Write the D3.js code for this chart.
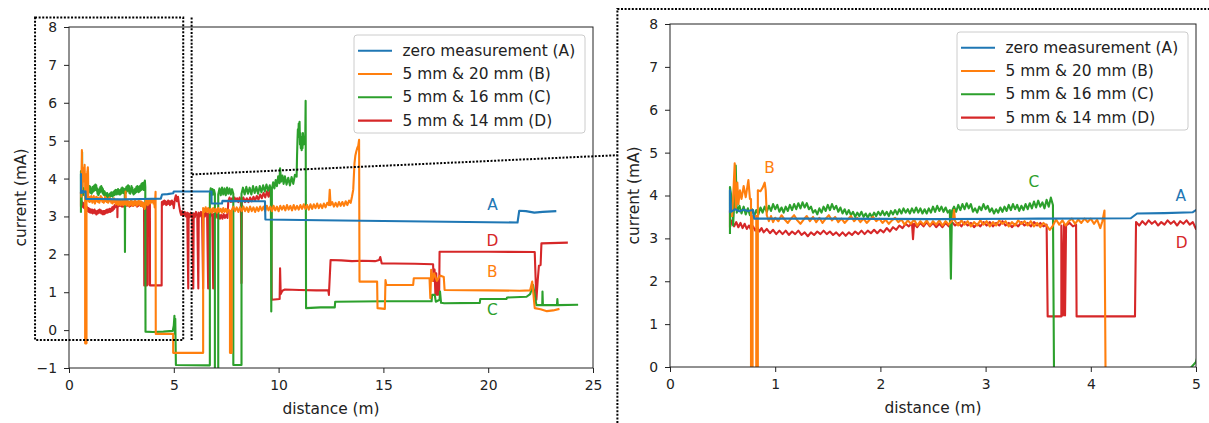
<!DOCTYPE html>
<html>
<head>
<meta charset="utf-8">
<script src="https://cdn.jsdelivr.net/npm/d3@7"></script>
<style>
  html, body { margin: 0; padding: 0; background: #fff; }
  svg { display: block; font-family: "DejaVu Sans", sans-serif; }
</style>
</head>
<body>
<svg id="chart" width="1209" height="423"></svg>
<script>
// Sensor current along the track: full run on the left, first 5 m enlarged on the right.
// Each series is a list of [distance (m), current (mA)] samples.

const SERIES_NAMES = [
  "zero measurement (A)",
  "5 mm & 20 mm (B)",
  "5 mm & 16 mm (C)",
  "5 mm & 14 mm (D)",
];
const SERIES_KEYS = ["A", "B", "C", "D"];

const zeroA = [
  [0.57, 3.60], [0.57, 4.12], [0.58, 3.62], [0.62, 3.68], [0.66, 3.63], [0.70, 3.67],
  [0.74, 3.64], [0.79, 3.66], [0.80, 3.46], [1.50, 3.46], [2.50, 3.45], [3.50, 3.46],
  [4.38, 3.47], [4.44, 3.58], [4.70, 3.59], [4.97, 3.61], [5.00, 3.66], [6.80, 3.66],
  [6.80, 3.34], [7.30, 3.34], [7.32, 3.41], [9.35, 3.40], [9.37, 2.92], [12.0, 2.90],
  [15.0, 2.88], [18.0, 2.86], [21.40, 2.84], [21.48, 3.15], [21.80, 3.14], [22.20, 3.10],
  [22.60, 3.12], [23.25, 3.14],
];

const gap20B = [
  [0.59, 3.50], [0.60, 3.95], [0.615, 4.75], [0.625, 3.70], [0.64, 4.30], [0.65, 3.80],
  [0.665, 4.12], [0.68, 3.92], [0.70, 4.22], [0.72, 3.96], [0.745, 4.36], [0.76, 3.92],
  [0.77, 3.92], [0.77, -0.35], [0.785, -0.35], [0.785, 3.52], [0.82, 3.52], [0.82, -0.35],
  [0.835, -0.35], [0.835, 4.12], [0.86, 4.10], [0.88, 4.18], [0.90, 4.30], [0.91, 4.12],
  [0.92, 3.54], [0.94, 3.40], [0.96, 3.52], [0.98, 3.38], [1.00, 3.48], [1.03, 3.40],
  [1.06, 3.54], [1.09, 3.44], [1.12, 3.36], [1.15, 3.46], [1.18, 3.54], [1.21, 3.42],
  [1.24, 3.34], [1.27, 3.44], [1.30, 3.52], [1.33, 3.40], [1.36, 3.50], [1.39, 3.38],
  [1.42, 3.48], [1.45, 3.36], [1.48, 3.46], [1.51, 3.54], [1.54, 3.42], [1.57, 3.50],
  [1.60, 3.38], [1.63, 3.46], [1.66, 3.36], [1.69, 3.44], [1.72, 3.52], [1.75, 3.40],
  [1.78, 3.48], [1.81, 3.38], [1.84, 3.46], [1.87, 3.36], [1.90, 3.44], [1.93, 3.50],
  [1.96, 3.40], [1.99, 3.46], [2.02, 3.36], [2.05, 3.44], [2.08, 3.34], [2.11, 3.42],
  [2.14, 3.48], [2.17, 3.38], [2.20, 3.44], [2.23, 3.32], [2.26, 3.42], [2.29, 3.34],
  [2.32, 3.44], [2.35, 3.30], [2.38, 3.40], [2.41, 3.32], [2.44, 3.42], [2.47, 3.30],
  [2.50, 3.40], [2.53, 3.32], [2.56, 3.42], [2.59, 3.30], [2.62, 3.40], [2.65, 3.32],
  [2.69, 3.44], [2.70, 3.66], [2.71, 3.40], [2.74, 3.30], [2.77, 3.42], [2.80, 3.32],
  [2.83, 3.40], [2.86, 3.28], [2.89, 3.38], [2.92, 3.30], [2.95, 3.42], [2.98, 3.32],
  [3.01, 3.40], [3.04, 3.28], [3.07, 3.38], [3.10, 3.30], [3.13, 3.42], [3.16, 3.34],
  [3.19, 3.40], [3.22, 3.28], [3.25, 3.38], [3.28, 3.30], [3.31, 3.42], [3.34, 3.34],
  [3.37, 3.40], [3.40, 3.30], [3.43, 3.40], [3.46, 3.28], [3.49, 3.36], [3.52, 3.26],
  [3.55, 3.36], [3.58, 3.30], [3.61, 3.20], [3.64, 3.30], [3.67, 3.44], [3.70, 3.32],
  [3.73, 3.42], [3.76, 3.30], [3.79, 3.40], [3.82, 3.46], [3.85, 3.34], [3.88, 3.44],
  [3.91, 3.36], [3.94, 3.46], [3.97, 3.38], [4.00, 3.46], [4.03, 3.34], [4.06, 3.44],
  [4.09, 3.24], [4.11, 3.40], [4.13, 3.65], [4.14, -0.10], [4.97, -0.10], [4.97, -0.60],
  [6.40, -0.60], [6.40, 3.22], [6.46, 3.12], [6.52, 3.24], [6.58, 3.12], [6.64, 3.22],
  [6.70, 3.10], [6.76, 3.20], [6.82, 3.10], [6.88, 3.22], [6.94, 3.12], [7.00, 3.20],
  [7.06, 3.10], [7.12, 3.22], [7.18, 3.12], [7.24, 3.20], [7.30, 3.10], [7.36, 3.22],
  [7.42, 3.12], [7.48, 3.20], [7.54, 3.10], [7.60, 3.18], [7.68, 3.14], [7.68, -0.60],
  [7.76, -0.60], [7.76, 3.16], [7.84, 3.26], [7.92, 3.14], [8.00, 3.24], [8.08, 3.12],
  [8.16, 3.24], [8.24, 3.14], [8.32, 3.26], [8.40, 3.14], [8.48, 3.24], [8.56, 3.12],
  [8.64, 3.26], [8.72, 3.14], [8.80, 3.24], [8.88, 3.12], [8.96, 3.24], [9.04, 3.14],
  [9.12, 3.26], [9.20, 3.16], [9.28, 3.26], [9.36, 3.14], [9.44, 3.28], [9.52, 3.16],
  [9.60, 3.26], [9.68, 3.14], [9.76, 3.28], [9.84, 3.16], [9.92, 3.26], [10.00, 3.14],
  [10.08, 3.28], [10.16, 3.18], [10.24, 3.28], [10.32, 3.16], [10.40, 3.30], [10.48, 3.18],
  [10.56, 3.28], [10.64, 3.16], [10.72, 3.30], [10.80, 3.18], [10.88, 3.28], [10.96, 3.18],
  [11.04, 3.30], [11.12, 3.20], [11.20, 3.32], [11.28, 3.20], [11.36, 3.30], [11.44, 3.18],
  [11.52, 3.32], [11.60, 3.20], [11.68, 3.32], [11.76, 3.22], [11.84, 3.34], [11.92, 3.22],
  [12.00, 3.32], [12.08, 3.22], [12.16, 3.34], [12.24, 3.24], [12.32, 3.36], [12.40, 3.30],
  [12.44, 3.70], [12.48, 3.30], [12.56, 3.38], [12.64, 3.26], [12.72, 3.36], [12.80, 3.26],
  [12.88, 3.38], [12.96, 3.28], [13.04, 3.38], [13.12, 3.28], [13.20, 3.40], [13.28, 3.30],
  [13.36, 3.42], [13.44, 3.36], [13.50, 3.52], [13.56, 3.70], [13.62, 4.40], [13.66, 4.60],
  [13.70, 4.70], [13.76, 4.82], [13.80, 4.86], [13.84, 5.02], [13.86, 1.28], [14.70, 1.28],
  [14.72, 0.58], [15.07, 0.56], [15.10, 1.32], [15.14, 1.19], [16.42, 1.19], [16.45, 1.37],
  [17.20, 1.37], [17.24, 0.84], [17.28, 1.59], [17.34, 1.30], [17.42, 1.50], [17.55, 1.30],
  [17.70, 1.44], [17.88, 1.40], [17.92, 1.06], [20.00, 1.05], [21.50, 1.04], [22.00, 1.05],
  [22.10, 1.28], [22.22, 0.58], [22.50, 0.55], [22.80, 0.50], [23.10, 0.52], [23.40, 0.56],
];

const gap16C = [
  [0.57, 3.10], [0.57, 4.20], [0.59, 3.85], [0.60, 3.30], [0.61, 3.80], [0.625, 4.70],
  [0.635, 3.60], [0.66, 3.76], [0.68, 3.58], [0.70, 3.74], [0.72, 3.56], [0.74, 3.70],
  [0.76, 3.54], [0.78, 3.68], [0.80, 3.52], [0.82, 3.66], [0.84, 3.56], [0.86, 3.72],
  [0.88, 3.60], [0.90, 3.74], [0.92, 3.62], [0.94, 3.76], [0.96, 3.64], [0.98, 3.80],
  [1.00, 3.68], [1.02, 3.78], [1.04, 3.62], [1.06, 3.72], [1.08, 3.60], [1.10, 3.74],
  [1.12, 3.64], [1.14, 3.78], [1.16, 3.66], [1.18, 3.80], [1.20, 3.68], [1.22, 3.82],
  [1.24, 3.70], [1.26, 3.84], [1.28, 3.72], [1.30, 3.82], [1.32, 3.68], [1.34, 3.74],
  [1.36, 3.60], [1.38, 3.66], [1.40, 3.56], [1.42, 3.70], [1.44, 3.60], [1.46, 3.74],
  [1.48, 3.64], [1.50, 3.78], [1.52, 3.66], [1.54, 3.80], [1.56, 3.68], [1.58, 3.76],
  [1.60, 3.62], [1.62, 3.72], [1.64, 3.58], [1.66, 3.68], [1.68, 3.56], [1.70, 3.66],
  [1.72, 3.54], [1.74, 3.62], [1.76, 3.50], [1.78, 3.60], [1.80, 3.52], [1.82, 3.62],
  [1.84, 3.50], [1.86, 3.58], [1.88, 3.48], [1.90, 3.58], [1.92, 3.50], [1.94, 3.60],
  [1.96, 3.52], [1.98, 3.62], [2.00, 3.54], [2.02, 3.64], [2.04, 3.54], [2.06, 3.62],
  [2.08, 3.52], [2.10, 3.64], [2.12, 3.56], [2.14, 3.66], [2.16, 3.56], [2.18, 3.68],
  [2.20, 3.58], [2.22, 3.70], [2.24, 3.60], [2.26, 3.68], [2.28, 3.58], [2.30, 3.70],
  [2.32, 3.60], [2.34, 3.72], [2.36, 3.60], [2.38, 3.70], [2.40, 3.58], [2.42, 3.68],
  [2.44, 3.58], [2.46, 3.70], [2.48, 3.60], [2.50, 3.74], [2.52, 3.62], [2.54, 3.76],
  [2.56, 3.64], [2.58, 3.74], [2.60, 3.62], [2.62, 3.72], [2.64, 3.60], [2.66, 3.66],
  [2.67, 2.06], [2.68, 3.64], [2.70, 3.74], [2.72, 3.62], [2.74, 3.78], [2.76, 3.66],
  [2.78, 3.80], [2.80, 3.68], [2.82, 3.82], [2.84, 3.70], [2.86, 3.80], [2.88, 3.62],
  [2.90, 3.70], [2.92, 3.60], [2.94, 3.74], [2.96, 3.66], [2.98, 3.80], [3.00, 3.68],
  [3.02, 3.76], [3.04, 3.62], [3.06, 3.70], [3.08, 3.58], [3.10, 3.68], [3.12, 3.60],
  [3.14, 3.72], [3.16, 3.62], [3.18, 3.74], [3.20, 3.64], [3.22, 3.78], [3.24, 3.66],
  [3.26, 3.80], [3.28, 3.68], [3.30, 3.78], [3.32, 3.64], [3.34, 3.76], [3.36, 3.66],
  [3.38, 3.80], [3.40, 3.68], [3.42, 3.82], [3.44, 3.70], [3.46, 3.86], [3.48, 3.72],
  [3.50, 3.88], [3.52, 3.74], [3.54, 3.84], [3.56, 3.70], [3.58, 3.90], [3.60, 3.74],
  [3.62, 3.95], [3.64, 3.78], [3.65, -0.04], [4.00, -0.05], [4.50, -0.04], [4.95, -0.02],
  [5.00, 0.12], [5.03, 0.38], [5.05, -0.10], [5.07, 0.30], [5.10, -0.92], [6.72, -0.93],
  [6.72, 3.60], [6.76, 3.74], [6.80, 3.56], [6.84, 3.72], [6.88, 3.58], [6.92, 3.70],
  [6.96, 3.60], [6.96, -1.20], [7.12, -1.20], [7.12, 3.58], [7.18, 3.74], [7.24, 3.56],
  [7.30, 3.76], [7.36, 3.58], [7.42, 3.74], [7.48, 3.56], [7.54, 3.76], [7.60, 3.60],
  [7.66, 3.74], [7.72, 3.58], [7.78, 3.72], [7.84, 3.60], [7.84, -0.92], [8.23, -0.92],
  [8.23, 3.60], [8.30, 3.76], [8.38, 3.58], [8.46, 3.78], [8.54, 3.60], [8.62, 3.76],
  [8.70, 3.58], [8.78, 3.80], [8.86, 3.62], [8.94, 3.78], [9.02, 3.60], [9.10, 3.80],
  [9.18, 3.64], [9.26, 3.82], [9.34, 3.66], [9.42, 3.84], [9.50, 3.68], [9.58, 3.82],
  [9.63, 3.70], [9.65, 0.49], [9.68, 3.72], [9.74, 3.90], [9.80, 3.74], [9.86, 3.96],
  [9.92, 3.80], [9.98, 4.06], [10.04, 3.88], [10.07, 4.27], [10.12, 3.92], [10.18, 4.08],
  [10.24, 3.86], [10.30, 4.06], [10.38, 3.84], [10.46, 4.02], [10.54, 3.82], [10.62, 4.04],
  [10.70, 3.86], [10.78, 4.10], [10.86, 4.05], [10.88, 4.60], [10.90, 5.00], [10.92, 5.30],
  [10.94, 5.10], [10.96, 5.45], [10.98, 5.20], [11.00, 5.50], [11.02, 4.90], [11.04, 5.20],
  [11.06, 4.80], [11.08, 5.10], [11.10, 4.75], [11.12, 5.00], [11.14, 4.80], [11.16, 5.20],
  [11.20, 4.90], [11.24, 5.00], [11.27, 4.95], [11.29, 6.05], [11.31, 0.58], [12.00, 0.60],
  [12.68, 0.60], [12.70, 0.75], [15.00, 0.76], [17.30, 0.76], [17.32, 0.93], [17.45, 0.93],
  [17.50, 0.75], [17.68, 0.80], [17.70, 1.02], [17.75, 0.72], [17.90, 0.71], [19.60, 0.72],
  [19.62, 0.82], [20.87, 0.82], [20.90, 0.86], [21.83, 0.88], [22.00, 0.95], [22.14, 1.19],
  [22.20, 1.00], [22.30, 0.66], [22.58, 0.66], [22.59, 1.02], [22.61, 0.66], [23.28, 0.66],
  [23.30, 0.82], [23.32, 0.66], [24.29, 0.67],
];

const gap14D = [
  [0.57, 3.65], [0.57, 3.26], [0.59, 3.42], [0.61, 3.28], [0.63, 3.38], [0.65, 3.26],
  [0.67, 3.36], [0.69, 3.24], [0.71, 3.34], [0.73, 3.22], [0.75, 3.30], [0.77, 3.20],
  [0.79, 3.28], [0.81, 3.18], [0.83, 3.26], [0.85, 3.16], [0.87, 3.24], [0.89, 3.14],
  [0.92, 3.22], [0.95, 3.12], [0.98, 3.20], [1.01, 3.10], [1.04, 3.18], [1.07, 3.10],
  [1.10, 3.18], [1.13, 3.08], [1.16, 3.16], [1.19, 3.10], [1.22, 3.18], [1.25, 3.08],
  [1.28, 3.14], [1.31, 3.05], [1.34, 3.14], [1.37, 3.08], [1.40, 3.16], [1.43, 3.10],
  [1.46, 3.18], [1.49, 3.10], [1.52, 3.16], [1.55, 3.08], [1.58, 3.14], [1.61, 3.06],
  [1.64, 3.14], [1.67, 3.06], [1.70, 3.14], [1.73, 3.08], [1.76, 3.16], [1.79, 3.10],
  [1.82, 3.18], [1.85, 3.10], [1.88, 3.18], [1.91, 3.12], [1.94, 3.20], [1.97, 3.12],
  [2.00, 3.20], [2.03, 3.14], [2.06, 3.24], [2.09, 3.16], [2.12, 3.26], [2.15, 3.20],
  [2.18, 3.30], [2.21, 3.24], [2.24, 3.34], [2.27, 3.28], [2.30, 3.36], [2.31, 2.98],
  [2.32, 3.34], [2.35, 3.26], [2.38, 3.36], [2.41, 3.28], [2.44, 3.38], [2.47, 3.28],
  [2.50, 3.36], [2.53, 3.26], [2.56, 3.34], [2.59, 3.26], [2.62, 3.36], [2.65, 3.28],
  [2.68, 3.38], [2.71, 3.30], [2.74, 3.36], [2.77, 3.28], [2.80, 3.38], [2.83, 3.30],
  [2.86, 3.36], [2.89, 3.26], [2.92, 3.34], [2.95, 3.28], [2.98, 3.38], [3.01, 3.30],
  [3.04, 3.38], [3.07, 3.28], [3.10, 3.36], [3.13, 3.30], [3.16, 3.40], [3.19, 3.30],
  [3.22, 3.36], [3.25, 3.26], [3.28, 3.34], [3.31, 3.28], [3.34, 3.38], [3.37, 3.30],
  [3.40, 3.36], [3.43, 3.28], [3.46, 3.38], [3.49, 3.30], [3.52, 3.36], [3.55, 3.28],
  [3.58, 3.32], [3.59, 1.18], [3.72, 1.18], [3.72, 3.30], [3.735, 1.20], [3.745, 3.32],
  [3.755, 1.20], [3.765, 3.30], [3.80, 3.36], [3.83, 3.28], [3.86, 3.32], [3.865, 1.18],
  [4.42, 1.18], [4.43, 3.38], [4.46, 3.30], [4.49, 3.40], [4.52, 3.32], [4.55, 3.42],
  [4.58, 3.34], [4.61, 3.40], [4.64, 3.30], [4.67, 3.38], [4.70, 3.32], [4.73, 3.42],
  [4.76, 3.34], [4.79, 3.40], [4.82, 3.30], [4.85, 3.40], [4.88, 3.34], [4.91, 3.42],
  [4.94, 3.32], [4.97, 3.38], [5.00, 3.22], [5.05, 3.46], [5.10, 3.56], [5.15, 3.40],
  [5.20, 3.52], [5.25, 3.30], [5.30, 3.14], [5.35, 3.04], [5.40, 3.14], [5.46, 3.02],
  [5.52, 3.12], [5.58, 3.00], [5.64, 3.10], [5.69, 1.10], [5.71, 3.08], [5.76, 2.98],
  [5.82, 3.10], [5.88, 3.00], [5.93, 1.10], [5.95, 3.08], [6.00, 2.98], [6.06, 3.12],
  [6.12, 3.00], [6.17, 1.10], [6.19, 3.10], [6.24, 3.00], [6.30, 3.12], [6.35, 3.02],
  [6.40, 1.10], [6.42, 3.10], [6.48, 3.00], [6.54, 3.12], [6.59, 3.02], [6.64, 1.10],
  [6.66, 3.08], [6.72, 2.98], [6.78, 3.10], [6.84, 3.00], [6.88, 1.10], [6.90, 3.06],
  [6.96, 2.96], [7.02, 3.08], [7.08, 2.96], [7.14, 3.06], [7.20, 2.94], [7.26, 3.04],
  [7.32, 2.94], [7.38, 3.06], [7.44, 2.96], [7.50, 3.04], [7.56, 2.96], [7.60, 3.40],
  [7.66, 3.50], [7.72, 3.38], [7.78, 3.48], [7.84, 3.38], [7.90, 3.50], [7.96, 3.40],
  [8.02, 3.48], [8.08, 3.38], [8.14, 3.50], [8.20, 3.40], [8.23, 1.24], [8.25, 3.42],
  [8.32, 3.50], [8.40, 3.38], [8.48, 3.48], [8.56, 3.38], [8.64, 3.50], [8.72, 3.40],
  [8.80, 3.52], [8.88, 3.42], [8.96, 3.54], [9.04, 3.44], [9.12, 3.58], [9.20, 3.48],
  [9.28, 3.62], [9.36, 3.50], [9.44, 3.66], [9.52, 3.52], [9.58, 3.70], [9.65, 3.46],
  [9.67, 0.80], [10.05, 0.82], [10.07, 1.63], [10.10, 0.95], [10.18, 1.04], [10.30, 1.07],
  [11.00, 1.06], [11.80, 1.05], [12.37, 1.05], [12.40, 0.93], [12.48, 1.85], [13.00, 1.84],
  [13.50, 1.82], [14.00, 1.83], [14.60, 1.82], [14.80, 1.85], [14.85, 1.93], [14.92, 1.76],
  [15.50, 1.76], [16.50, 1.75], [17.37, 1.74], [17.40, 1.30], [17.44, 1.60], [17.48, 0.95],
  [17.52, 1.50], [17.56, 0.93], [17.62, 1.30], [17.66, 0.93], [17.68, 2.07], [20.00, 2.07],
  [22.22, 2.06], [22.26, 1.40], [22.30, 0.80], [22.36, 1.30], [22.42, 1.70], [22.50, 1.72],
  [22.54, 2.29], [23.80, 2.31],
];

// series letters placed next to the curves, [letter, distance, current]
const LETTERS_FULL = [["A", 20.2, 3.30], ["D", 20.2, 2.34], ["B", 20.2, 1.54], ["C", 20.2, 0.53]];
const LETTERS_ZOOM = [["B", 0.945, 4.63], ["C", 3.46, 4.32], ["A", 4.855, 4.00], ["D", 4.865, 2.89]];

const X_TICKS_FULL = [0, 5, 10, 15, 20, 25];
const Y_TICKS_FULL = [-1, 0, 1, 2, 3, 4, 5, 6, 7, 8];
const X_TICKS_ZOOM = [0, 1, 2, 3, 4, 5];
const Y_TICKS_ZOOM = [0, 1, 2, 3, 4, 5, 6, 7, 8];

const SERIES = [zeroA, gap20B, gap16C, gap14D].map((values, i) => ({
  key: SERIES_KEYS[i], name: SERIES_NAMES[i], values,
}));

const COLORS = { A: "#1f77b4", B: "#ff7f0e", C: "#2ca02c", D: "#d62728" };
const DRAW_ORDER = ["D", "C", "B", "A"];
const TICK_FONT  = 13.9;
const LABEL_FONT = 15.4;

const PANELS = [
  { left: 69,  top: 27, width: 524, height: 341, xDomain: [0, 25], yDomain: [-1, 8],
    xTicks: X_TICKS_FULL, yTicks: Y_TICKS_FULL, letters: LETTERS_FULL, yLabelGap: 48 },
  { left: 670, top: 24, width: 526, height: 343, xDomain: [0, 5],  yDomain: [0, 8],
    xTicks: X_TICKS_ZOOM, yTicks: Y_TICKS_ZOOM, letters: LETTERS_ZOOM, yLabelGap: 36 },
];

const svg  = d3.select("#chart");
const defs = svg.append("defs");
const fmt  = v => (v < 0 ? "\u2212" + Math.abs(v) : String(v));

function drawPanel(p, i) {
  const x = d3.scaleLinear().domain(p.xDomain).range([p.left, p.left + p.width]);
  const y = d3.scaleLinear().domain(p.yDomain).range([p.top + p.height, p.top]);

  defs.append("clipPath").attr("id", `clip-${i}`)
    .append("rect")
      .attr("x", p.left).attr("y", p.top)
      .attr("width", p.width).attr("height", p.height);

  const line = d3.line().x(d => x(d[0])).y(d => y(d[1]));
  const plot = svg.append("g").attr("clip-path", `url(#clip-${i})`);

  DRAW_ORDER.forEach(k => {
    const s = SERIES.find(d => d.key === k);
    plot.append("path")
      .datum(s.values)
      .attr("d", line)
      .attr("fill", "none")
      .attr("stroke", COLORS[k])
      .attr("stroke-width", 2.1)
      .attr("stroke-linejoin", "round");
  });

  // letters beside the curves
  p.letters.forEach(([t, dx, dy]) => {
    svg.append("text")
      .attr("x", x(dx)).attr("y", y(dy))
      .attr("text-anchor", "middle")
      .attr("dominant-baseline", "central")
      .attr("fill", COLORS[t])
      .attr("font-size", LABEL_FONT)
      .text(t);
  });

  // axes
  const xAxis = svg.append("g")
    .attr("transform", `translate(0,${p.top + p.height})`)
    .call(d3.axisBottom(x).tickValues(p.xTicks).tickFormat(fmt)
      .tickSize(5).tickSizeOuter(0).tickPadding(7));
  const yAxis = svg.append("g")
    .attr("transform", `translate(${p.left},0)`)
    .call(d3.axisLeft(y).tickValues(p.yTicks).tickFormat(fmt)
      .tickSize(5).tickSizeOuter(0).tickPadding(7));

  [xAxis, yAxis].forEach(a => {
    a.select(".domain").remove();
    a.selectAll(".tick line").attr("stroke", "#222").attr("stroke-width", 1);
    a.selectAll("text")
      .attr("fill", "#222")
      .attr("font-size", TICK_FONT)
      .attr("font-family", "DejaVu Sans");
  });

  svg.append("rect")
    .attr("x", p.left).attr("y", p.top)
    .attr("width", p.width).attr("height", p.height)
    .attr("fill", "none")
    .attr("stroke", "#222")
    .attr("stroke-width", 1);

  svg.append("text")
    .attr("x", p.left + p.width / 2)
    .attr("y", p.top + p.height + 41)
    .attr("text-anchor", "middle")
    .attr("dominant-baseline", "central")
    .attr("fill", "#222")
    .attr("font-size", LABEL_FONT)
    .text("distance (m)");

  svg.append("text")
    .attr("transform", `translate(${p.left - p.yLabelGap},${p.top + p.height / 2}) rotate(-90)`)
    .attr("text-anchor", "middle")
    .attr("dominant-baseline", "central")
    .attr("fill", "#222")
    .attr("font-size", LABEL_FONT)
    .text("current (mA)");

  // legend, upper right
  const lw = 231, lh = 98;
  const lg = svg.append("g")
    .attr("transform", `translate(${p.left + p.width - 8 - lw},${p.top + 8})`);
  lg.append("rect")
    .attr("width", lw).attr("height", lh)
    .attr("rx", 3)
    .attr("fill", "#fff").attr("fill-opacity", 0.8)
    .attr("stroke", "#ccc").attr("stroke-width", 1);
  SERIES.forEach((s, j) => {
    const ry = 15.7 + j * 23.3;
    lg.append("line")
      .attr("x1", 4).attr("x2", 38).attr("y1", ry).attr("y2", ry)
      .attr("stroke", COLORS[s.key]).attr("stroke-width", 2.1);
    lg.append("text")
      .attr("x", 48.5).attr("y", ry)
      .attr("dominant-baseline", "central")
      .attr("fill", "#222")
      .attr("font-size", LABEL_FONT)
      .text(s.name);
  });

  return { x, y };
}

const [full, zoom] = PANELS.map(drawPanel);

// dotted guides tying the 0–5 m window to the enlarged panel
const FRAME_X = [-1.62, 5.45], FRAME_Y = [-0.26, 8.25];
const EDGE_X = 5.85;
const LINK_FROM = [5.87, 4.11], LINK_TO = [-0.5, 4.94];
const ZOOM_FRAME_X = -0.5, ZOOM_FRAME_TOP = 8.35;

const guide = svg.append("g")
  .attr("fill", "none")
  .attr("stroke", "#000")
  .attr("stroke-width", 2)
  .attr("stroke-dasharray", "2,1.6");

guide.append("rect")
  .attr("x", full.x(FRAME_X[0])).attr("y", full.y(FRAME_Y[1]))
  .attr("width", full.x(FRAME_X[1]) - full.x(FRAME_X[0]))
  .attr("height", full.y(FRAME_Y[0]) - full.y(FRAME_Y[1]));
guide.append("line")
  .attr("x1", full.x(EDGE_X)).attr("x2", full.x(EDGE_X))
  .attr("y1", full.y(FRAME_Y[1])).attr("y2", full.y(FRAME_Y[0]));
guide.append("line")
  .attr("x1", full.x(LINK_FROM[0])).attr("y1", full.y(LINK_FROM[1]))
  .attr("x2", zoom.x(LINK_TO[0])).attr("y2", zoom.y(LINK_TO[1]));
guide.append("path")
  .attr("d", `M${zoom.x(ZOOM_FRAME_X)},423 V${zoom.y(ZOOM_FRAME_TOP)} H1209`);
</script>
</body>
</html>
